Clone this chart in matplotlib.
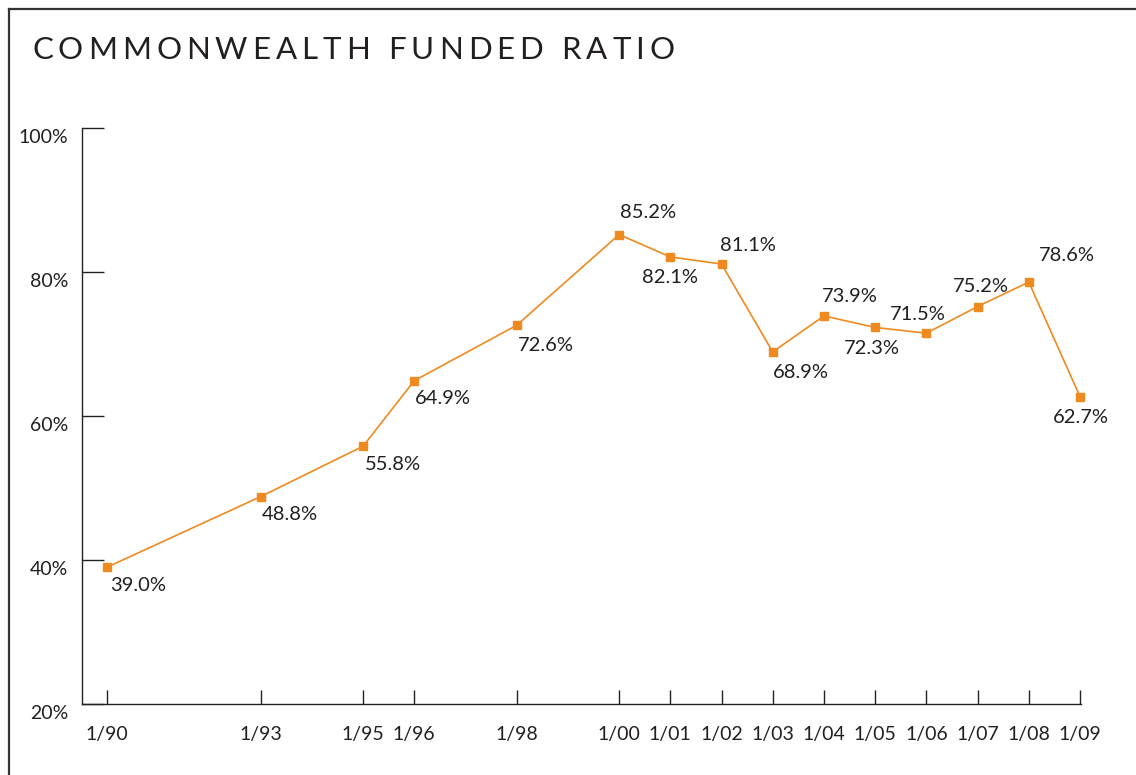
import matplotlib
matplotlib.use("Agg")
import matplotlib.pyplot as plt
from matplotlib.lines import Line2D
import matplotlib.transforms as mtransforms

# ---- data ----
years = [1990, 1993, 1995, 1996, 1998, 2000, 2001, 2002, 2003, 2004, 2005, 2006, 2007, 2008, 2009]
tick_labels = ["1/90", "1/93", "1/95", "1/96", "1/98", "1/00", "1/01", "1/02", "1/03",
               "1/04", "1/05", "1/06", "1/07", "1/08", "1/09"]
funded_ratio = [39.0, 48.8, 55.8, 64.9, 72.6, 85.2, 82.1, 81.1, 68.9, 73.9, 72.3, 71.5, 75.2, 78.6, 62.7]
y_ticks = [20, 40, 60, 80, 100]
title = "COMMONWEALTH FUNDED RATIO"

# label placement (pixel offsets dx, dy (up positive), horizontal alignment)
label_place = [(3, -18, "left"), (1, -18, "left"), (2, -18, "left"), (1, -18, "left"),
               (1, -20, "left"), (1, 22, "left"), (0, -21, "center"), (-2, 19, "left"),
               (0, -21, "left"), (-2, 19, "left"), (-3, -21, "center"), (-9, 19, "center"),
               (3, 20, "center"), (10, 27, "left"), (1, -21, "center")]

FONT = ["Lato", "DejaVu Sans"]
TXT = "#231F20"
ORANGE = "#EE8A1F"

plt.rcParams["font.family"] = FONT

W, H = 1136, 775
fig = plt.figure(figsize=(W / 100, H / 100), dpi=100)

# frame lines (left and top)
fig.add_artist(Line2D([8.5 / W, 8.5 / W], [0, 1 - 9 / H], transform=fig.transFigure,
                      color="#333333", lw=1.6))
fig.add_artist(Line2D([8.5 / W, 1], [1 - 9 / H, 1 - 9 / H], transform=fig.transFigure,
                      color="#333333", lw=1.6))

# letter-spaced title
renderer = fig.canvas.get_renderer()
x_px = 32.0
spacing = 5.0
for ch in title:
    t = fig.text(x_px / W, 1 - 50 / H, ch, fontsize=22.5, color=TXT, va="center", ha="left",
                 fontweight="normal")
    if ch == " ":
        w = 8.0
    else:
        w = t.get_window_extent(renderer=renderer).width
    x_px += w + spacing

ax = fig.add_axes([82 / W, 1 - 704 / H, (1081 - 82) / W, (704 - 128) / H])
ax.set_xlim(1989.512, 2009.02)
ax.set_ylim(20, 100)

ax.plot(years, funded_ratio, color=ORANGE, lw=1.2, marker="s", markersize=5.5,
        markerfacecolor=ORANGE, markeredgecolor=ORANGE, zorder=3, clip_on=False)

for x, v, (dx, dy, ha) in zip(years, funded_ratio, label_place):
    ax.annotate(f"{v:.1f}%", (x, v), xytext=(dx * 0.72, dy * 0.72), textcoords="offset points",
                ha=ha, va="center", fontsize=14.5, color=TXT)

for s in ["top", "right"]:
    ax.spines[s].set_visible(False)
for s in ["left", "bottom"]:
    ax.spines[s].set_color("#222222")
    ax.spines[s].set_linewidth(1.0)

ax.set_yticks(y_ticks)
ax.set_yticklabels([f"{t}%" for t in y_ticks])
ax.tick_params(axis="y", direction="in", length=16, width=1.0, color="#222222",
               labelsize=14, labelcolor=TXT, pad=10)
ax.set_xticks(years)
ax.set_xticklabels(tick_labels)
ax.tick_params(axis="x", direction="in", length=10, width=1.0, color="#222222",
               labelsize=14, labelcolor=TXT, pad=16)

# shift y tick labels slightly downward
offset = mtransforms.ScaledTranslation(0, -8 / 100, fig.dpi_scale_trans)
for lab in ax.get_yticklabels():
    lab.set_transform(lab.get_transform() + offset)

fig.savefig("out.png", dpi=100)
